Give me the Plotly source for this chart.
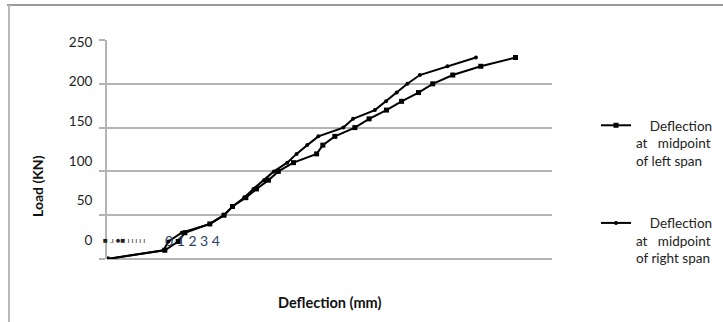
import plotly.graph_objects as go

# Load steps (kN) and measured mid-span deflections (mm)
load_kn = [0, 10, 20, 30, 40, 50, 60, 70, 80, 90, 100, 110, 120,
           130, 140, 150, 160, 170, 180, 190, 200, 210, 220, 230]
defl_left = [0.00, 1.30, 1.60, 1.75, 2.31, 2.63, 2.82, 3.12, 3.36, 3.63, 3.85, 4.19, 4.71,
             4.85, 5.12, 5.57, 5.89, 6.28, 6.62, 7.00, 7.32, 7.77, 8.40, 9.18]
defl_right = [0.00, 1.27, 1.38, 1.68, 2.31, 2.63, 2.82, 3.08, 3.29, 3.53, 3.75, 4.05, 4.26,
              4.50, 4.75, 5.31, 5.53, 6.02, 6.27, 6.51, 6.75, 7.03, 7.65, 8.29]

y_tick_vals = [0, 50, 100, 150, 200, 250]
y_tick_text = ["0", "50", "100", "150", "200", "250"]

name_left = "&nbsp;&nbsp;&nbsp;&nbsp;Deflection<br>at&nbsp;&nbsp;&nbsp;midpoint<br>of left span"
name_right = "&nbsp;&nbsp;&nbsp;&nbsp;Deflection<br>at&nbsp;&nbsp;&nbsp;midpoint<br>of right span"

W, H = 723, 322
L, R, T, B = 107, 171, 40, 63
PW, PH = W - L - R, H - T - B


def px(x):
    return (x - L) / PW


def py(y):
    return (H - B - y) / PH


FONT = "Lato, 'Open Sans', sans-serif"
GRID = "#b4b4b4"

fig = go.Figure()
fig.add_trace(go.Scatter(
    x=defl_left, y=load_kn, name=name_left, mode="lines+markers",
    line=dict(color="black", width=2),
    marker=dict(symbol="square", size=5, color="black"),
    legendgroup="left",
))
fig.add_trace(go.Scatter(
    x=defl_right, y=load_kn, name=name_right, mode="lines+markers",
    line=dict(color="black", width=2),
    marker=dict(symbol="circle", size=4, color="black"),
    legendgroup="right",
))
# carrier trace for the separate load-label axis pair
fig.add_trace(go.Scatter(
    x=[0, 0], y=[0, 250], xaxis="x2", yaxis="y2", mode="markers", opacity=0,
    showlegend=False, hoverinfo="skip",
))

fig.update_layout(
    width=W, height=H,
    margin=dict(l=L, r=R, t=T, b=B, autoexpand=False),
    paper_bgcolor="white", plot_bgcolor="rgba(0,0,0,0)",
    font=dict(family=FONT, size=13.5, color="#222"),
    showlegend=True,
    legend=dict(
        x=px(596), y=py(110), xanchor="left", yanchor="top",
        bgcolor="rgba(0,0,0,0)", borderwidth=0,
        tracegroupgap=42, valign="top",
        font=dict(family=FONT, size=13.5, color="#222"),
    ),
    xaxis=dict(
        domain=[0, 1], anchor="y",
        range=[0, 10], showgrid=False, zeroline=False,
        showticklabels=False, ticks="", showline=False,
    ),
    yaxis=dict(
        domain=[0, 1], anchor="x",
        range=[0, 250], tickvals=y_tick_vals, showticklabels=False,
        ticks="outside", ticklen=6, tickcolor=GRID, tickwidth=1.5,
        showgrid=True, gridcolor=GRID, gridwidth=1.5,
        zeroline=True, zerolinecolor=GRID, zerolinewidth=1.5,
        showline=True, linecolor=GRID, linewidth=1.5,
    ),
    xaxis2=dict(
        domain=[0, 1], anchor="y2", range=[0, 10], visible=False,
    ),
    yaxis2=dict(
        range=[0, 250], domain=[py(240), py(42)], anchor="x2", side="left",
        tickvals=y_tick_vals, ticktext=y_tick_text,
        ticks="outside", ticklen=11, tickcolor="rgba(0,0,0,0)",
        showgrid=False, zeroline=False, showline=False,
        tickfont=dict(family=FONT, size=13.5, color="#222"),
    ),
)

annotations = [
    dict(text="<b>Load (KN)</b>", x=px(37), y=py(186), textangle=-90,
         font=dict(size=14, color="#111")),
    dict(text="<b>Deflection (mm)</b>", x=px(330), y=py(302),
         font=dict(size=14.5, color="#111")),
    dict(text="■ .ı ●■ ı ı ı ı ı", x=px(101), y=py(240), xanchor="left",
         font=dict(size=8, color="#222")),
    dict(text="0 1 2 3 4", x=px(163), y=py(240), xanchor="left",
         font=dict(size=14, color="#2a3f66")),
]
for a in annotations:
    a.setdefault("xanchor", "center")
    a.update(xref="paper", yref="paper", showarrow=False, yanchor="middle")
    fig.add_annotation(**a)

# outer frame of the chart area
fig.add_shape(type="line", xref="paper", yref="paper",
              x0=px(7), x1=px(W), y0=py(5), y1=py(5),
              line=dict(color="#9a9a9a", width=2))
fig.add_shape(type="line", xref="paper", yref="paper",
              x0=px(9), x1=px(9), y0=py(5), y1=py(H),
              line=dict(color="#b8b8b8", width=2))

fig.write_html("out.html")
